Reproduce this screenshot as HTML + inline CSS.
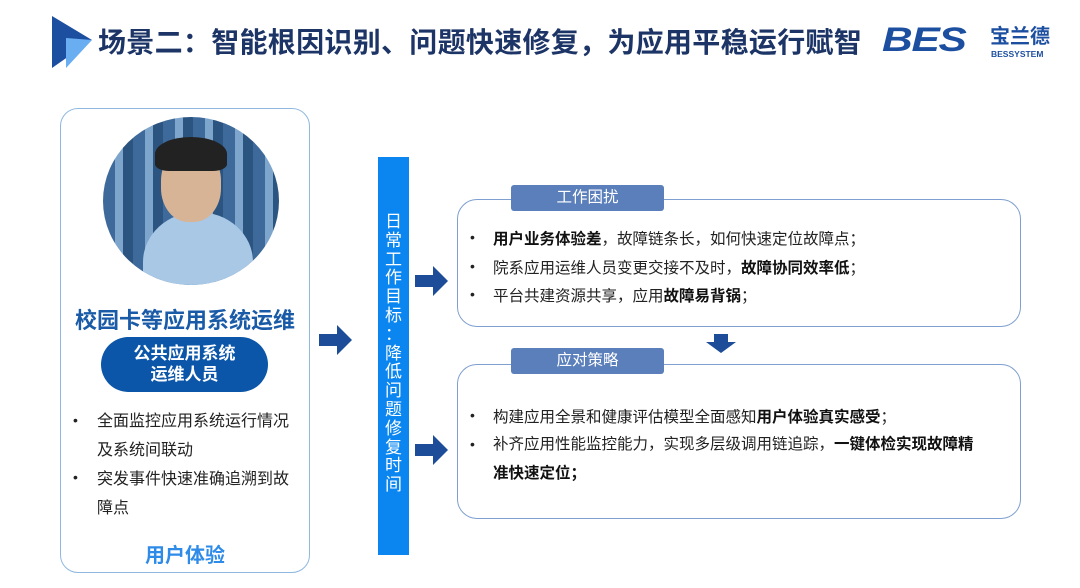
<!DOCTYPE html>
<html><head><meta charset="utf-8"><style>
body{margin:0;width:1080px;height:588px;background:#fff;position:relative;overflow:hidden;font-family:"Liberation Sans","Noto Sans CJK SC",sans-serif;}
.a{position:absolute;}
.t{font-size:15.5px;color:#222;white-space:nowrap;}
.d{position:absolute;font-size:14px;color:#222;}
b{font-weight:bold;color:#111}
</style></head><body>
<svg class="a" style="left:48px;top:16px" width="52" height="56"><polygon points="4,0 44,24 4,52" fill="#1d4fa0"/><polygon points="18,22 44,24 18,52" fill="#6aaef2"/></svg>
<div class="a" style="left:98px;top:21px;font-size:28px;font-weight:bold;color:#1c3566;letter-spacing:0.3px;white-space:nowrap">场景二：智能根因识别、问题快速修复，为应用平稳运行赋智</div>
<div class="a" style="left:882px;top:21px;font-size:34px;font-weight:bold;font-style:italic;color:#1d4fa0;letter-spacing:-1px;transform:scaleX(1.25);transform-origin:left">BES</div>
<div class="a" style="left:990px;top:26px;font-size:20px;font-weight:bold;color:#1d4fa0;line-height:22px">宝兰德</div>
<div class="a" style="left:991px;top:49px;font-size:8.5px;font-weight:bold;color:#1d4fa0">BESSYSTEM</div>

<div class="a" style="left:60px;top:108px;width:248px;height:463px;border:1.5px solid #8fb8e0;border-radius:18px"></div>
<div class="a" style="left:103px;top:117px;width:176px;height:168px;border-radius:50%;overflow:hidden;background:repeating-linear-gradient(90deg,#3d6a9a 0 12px,#7ea6cc 12px 20px,#2c5480 20px 30px)">
  <div class="a" style="left:40px;top:95px;width:110px;height:100px;border-radius:50% 50% 0 0;background:#a9c8e6"></div>
  <div class="a" style="left:58px;top:30px;width:60px;height:75px;border-radius:45%;background:#d8b497"></div>
  <div class="a" style="left:52px;top:20px;width:72px;height:34px;border-radius:50% 50% 20% 20%;background:#222"></div>
</div>
<div class="a" style="left:60px;top:303px;width:250px;text-align:center;font-size:22px;font-weight:bold;color:#1a5ba8">校园卡等应用系统运维</div>
<div class="a" style="left:101px;top:337px;width:167px;height:55px;border-radius:28px;background:#0b56a8;color:#fff;font-weight:bold;font-size:17px;text-align:center;line-height:21px;padding-top:6px;box-sizing:border-box">公共应用系统<br>运维人员</div>
<div class="d" style="left:73px;top:412px">•</div><div class="a t" style="left:97px;top:407px;line-height:29px;font-size:16px">全面监控应用系统运行情况<br>及系统间联动</div>
<div class="d" style="left:73px;top:469px">•</div><div class="a t" style="left:97px;top:465px;line-height:29px;font-size:16px">突发事件快速准确追溯到故<br>障点</div>
<div class="a" style="left:60px;top:539px;width:250px;text-align:center;font-size:20px;color:#2e8be8;font-weight:bold">用户体验</div>

<svg class="a" style="left:319px;top:324px" width="34" height="32"><polygon points="0,10 18,10 18,1 33,16 18,31 18,22 0,22" fill="#1d4c98"/></svg>
<div class="a" style="left:378px;top:157px;width:31px;height:398px;background:#0b86f0;color:#fff;font-size:17px;line-height:18.8px;text-align:center;padding-top:56px;box-sizing:border-box">日<br>常<br>工<br>作<br>目<br>标<br>：<br>降<br>低<br>问<br>题<br>修<br>复<br>时<br>间</div>
<svg class="a" style="left:415px;top:265px" width="34" height="32"><polygon points="0,10 18,10 18,1 33,16 18,31 18,22 0,22" fill="#1d4c98"/></svg>
<svg class="a" style="left:415px;top:434px" width="34" height="32"><polygon points="0,10 18,10 18,1 33,16 18,31 18,22 0,22" fill="#1d4c98"/></svg>

<div class="a" style="left:457px;top:199px;width:562px;height:126px;border:1.5px solid #7f9fd0;border-radius:20px"></div>
<div class="a" style="left:511px;top:185px;width:153px;height:26px;background:#5b7fbb;border-radius:3px;color:#fff;font-size:15.5px;text-align:center;line-height:26px">工作困扰</div>
<div class="d" style="left:470px;top:229px">•</div><div class="a t" style="left:493px;top:227px"><b>用户业务体验差</b>，故障链条长，如何快速定位故障点；</div>
<div class="d" style="left:470px;top:258px">•</div><div class="a t" style="left:493px;top:256px">院系应用运维人员变更交接不及时，<b>故障协同效率低</b>；</div>
<div class="d" style="left:470px;top:286px">•</div><div class="a t" style="left:493px;top:284px">平台共建资源共享，应用<b>故障易背锅</b>；</div>

<svg class="a" style="left:705px;top:334px" width="32" height="20"><polygon points="9,0 23,0 23,8 31,8 16,19 1,8 9,8" fill="#1d4c98"/></svg>

<div class="a" style="left:457px;top:364px;width:562px;height:153px;border:1.5px solid #7f9fd0;border-radius:20px"></div>
<div class="a" style="left:511px;top:348px;width:153px;height:26px;background:#5b7fbb;border-radius:3px;color:#fff;font-size:15.5px;text-align:center;line-height:26px">应对策略</div>
<div class="d" style="left:470px;top:407px">•</div><div class="a t" style="left:493px;top:405px">构建应用全景和健康评估模型全面感知<b>用户体验真实感受</b>；</div>
<div class="d" style="left:470px;top:436px">•</div><div class="a t" style="left:493px;top:430px;line-height:29px">补齐应用性能监控能力，实现多层级调用链追踪，<b>一键体检实现故障精<br>准快速定位；</b></div>
</body></html>
